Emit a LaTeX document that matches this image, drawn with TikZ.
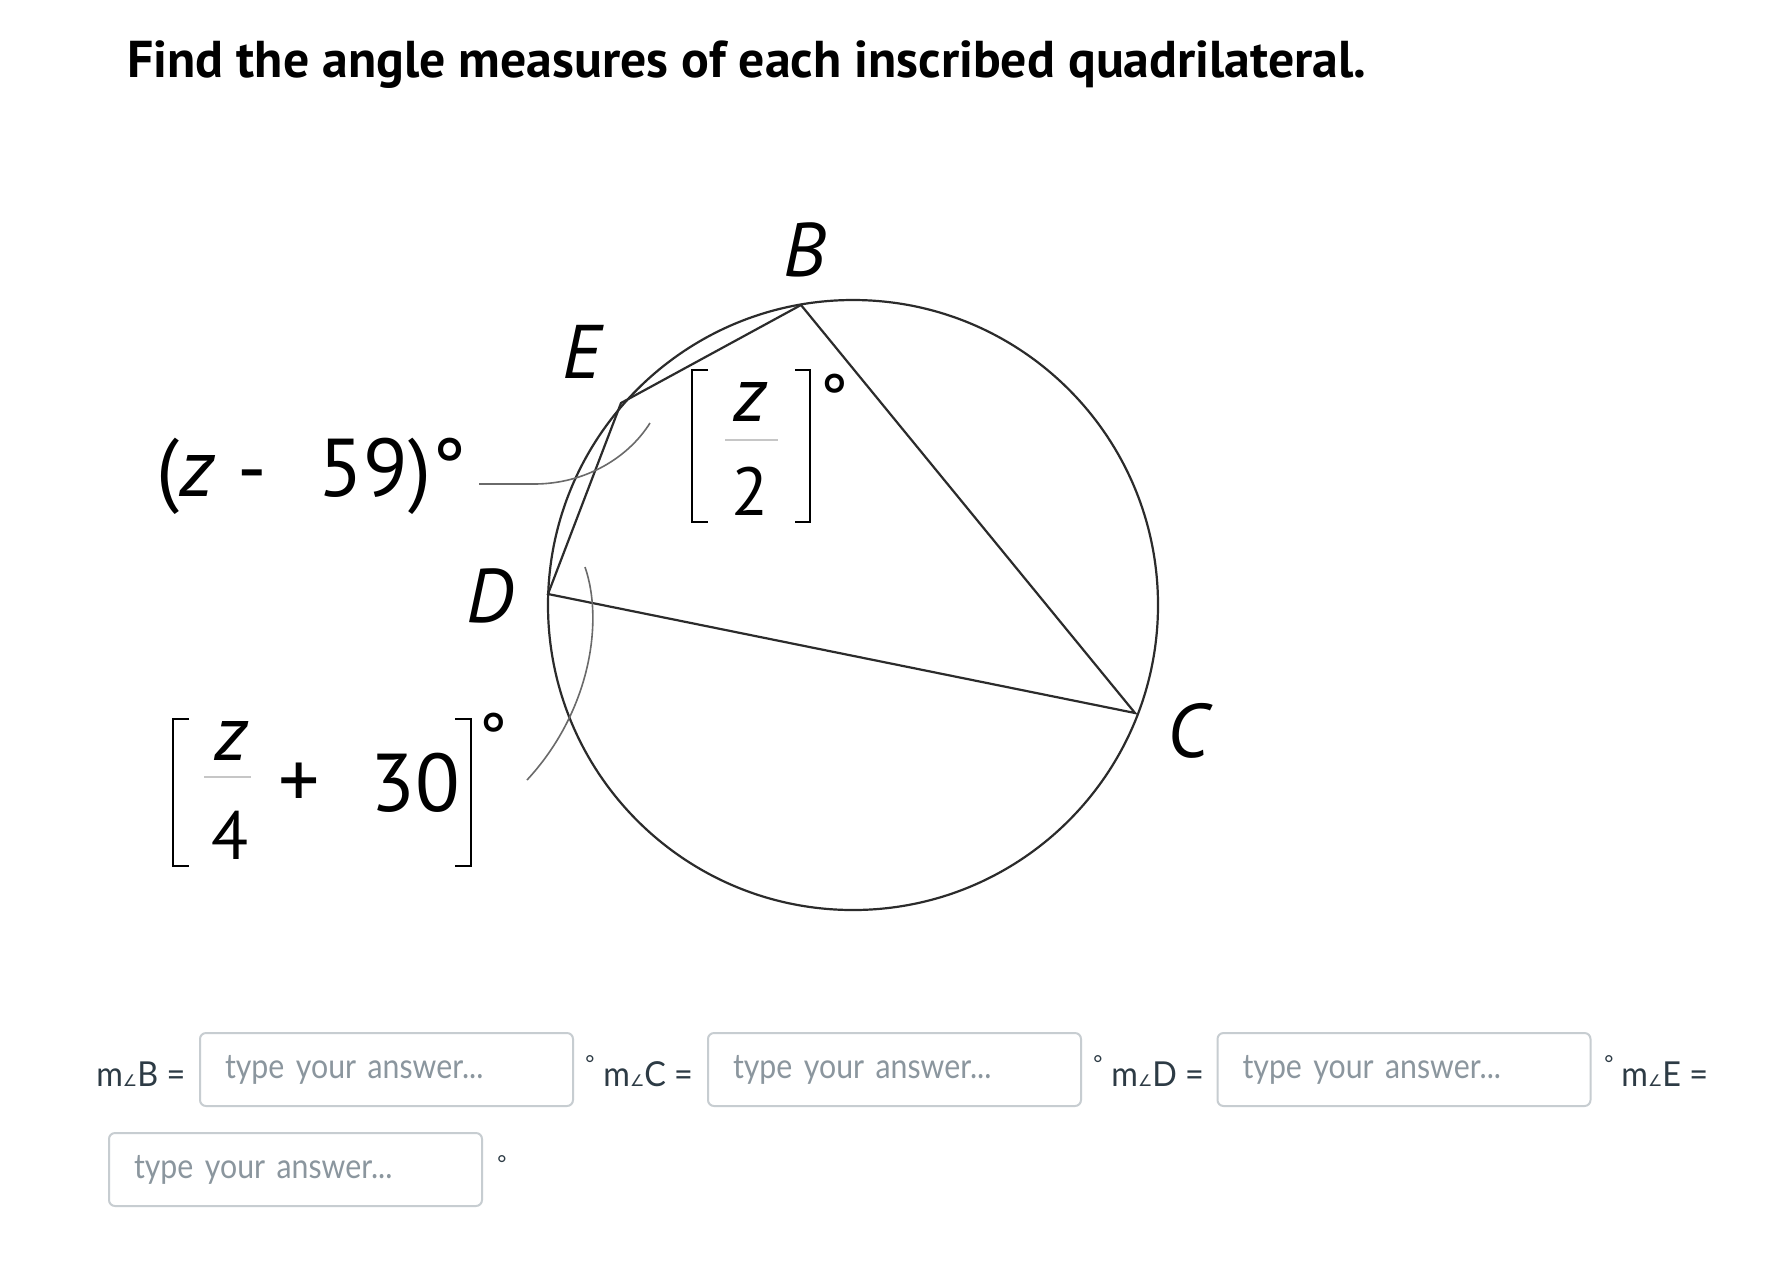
\documentclass[tikz,border=0pt]{standalone}
\usepackage{fontspec}
\setmainfont{Lato}
\newfontfamily\figfont{PT Sans}
\newfontfamily\symfont{DejaVu Sans}
\newfontfamily\hintfont[FakeStretch=0.88]{Lato}
\newfontfamily\formfont[FakeStretch=0.94]{Lato}
\usetikzlibrary{positioning}

\definecolor{formtext}{HTML}{2D3B45}
\definecolor{hinttext}{HTML}{8B969E}
\definecolor{boxline}{HTML}{C7CDD1}
\definecolor{figline}{HTML}{2B2B2B}
\definecolor{leadline}{HTML}{6A6A6A}

\newcommand{\mang}{m{\symfont\fontsize{8}{8}\selectfont ∠}}

\begin{document}
\begin{tikzpicture}[x=0.5pt,y=-0.5pt,
  every node/.style={inner sep=0pt},
  vlabel/.style={font={\figfont\itshape\fontsize{38}{38}\selectfont}},
  angtext/.style={font={\figfont\fontsize{41}{41}\selectfont}},
  fractext/.style={font={\figfont\fontsize{34}{34}\selectfont}},
  fracz/.style={font={\figfont\itshape\fontsize{39}{39}\selectfont}},
  chord/.style={figline,line width=1.1pt},
  bracket/.style={black,line width=1.3pt},
  fracbar/.style={gray!45,line width=1pt},
  leader/.style={leadline,line width=0.8pt},
  formlbl/.style={font={\formfont\fontsize{17.2}{17.2}\selectfont},text=formtext},
  ansbox/.style={draw=boxline,line width=1pt,rounded corners=3pt,
    minimum width=186.5pt,minimum height=36.5pt,text width=161.5pt,
    inner xsep=12.5pt,align=left,font={\hintfont\fontsize{17.2}{17.2}\selectfont},text=hinttext},
  degmark/.style={font={\fontsize{11}{11}\selectfont},text=formtext}]
\useasboundingbox[fill=white] (0,0) rectangle (1766,1266);

% title
\node[anchor=base west,font={\figfont\bfseries\fontsize{25.9}{25.9}\selectfont}] (title)
  at (127,77) {Find the angle measures of each inscribed quadrilateral.};

% circle and quadrilateral
\coordinate (O) at (853,605);
\coordinate (B) at (801,305);
\coordinate (E) at (621,403);
\coordinate (D) at (548,594);
\coordinate (C) at (1135,713);
\draw[chord] (O) circle (152.5pt);
\draw[chord] (B) -- (E) -- (D) -- (C) -- cycle;

\node[vlabel,anchor=base] (lB) at (805,276) {B};
\node[vlabel,anchor=base] (lE) at (582,378) {E};
\node[vlabel,anchor=base] (lD) at (490,622) {D};
\node[vlabel,anchor=base] (lC) at (1188,757) {C};

% angle at E
\node[angtext,anchor=base west] (angE) at (156,496) {(\textit{z} -\hspace{26pt}59)°};
\coordinate (fE) at (479,484);
\coordinate (tE) at (650,423);
\draw[leader] (fE) -- ++(55,0) .. controls (585,484) and (628,458) .. (tE);

% angle at B
\node[fracz,anchor=base] (zB) at (750,421) {z};
\node[fractext,anchor=base] (twoB) at (750,515) {2};
\draw[fracbar] (725,440) -- (778,440);
\draw[bracket] (708,370) -- (692,370) -- (692,522) -- (708,522);
\draw[bracket] (795,370) -- (810,370) -- (810,522) -- (795,522);
\node[fractext] (degB) at (834,398) {°};

% angle at D
\node[fracz,anchor=base] (zD) at (231,760) {z};
\node[fractext,anchor=base] (fourD) at (230,859) {4};
\draw[fracbar] (204,777) -- (251,777);
\node[angtext] (plusD) at (299,786) {+};
\node[angtext,anchor=base west] (thirtyD) at (370,811) {30};
\draw[bracket] (189,719) -- (173,719) -- (173,866) -- (189,866);
\draw[bracket] (455,719) -- (471,719) -- (471,866) -- (455,866);
\node[fractext] (degD) at (493,737) {°};
\coordinate (tD) at (585,567);
\coordinate (fD) at (527,780);
\draw[leader] (tD) .. controls (604,622) and (590,712) .. (fD);

% answer form
\node[formlbl,anchor=base west] (mB) at (96,1086) {\mang B =};
\node[ansbox] (boxB) at (386.5,1069.5) {type your answer...};
\node[degmark] (dB) at (590,1063) {°};
\node[formlbl,anchor=base west] (mC) at (603,1086) {\mang C =};
\node[ansbox] (boxC) at (894.5,1069.5) {type your answer...};
\node[degmark] (dC) at (1098,1063) {°};
\node[formlbl,anchor=base west] (mD) at (1111,1086) {\mang D =};
\node[ansbox] (boxD) at (1404,1069.5) {type your answer...};
\node[degmark] (dD) at (1609,1063) {°};
\node[formlbl,anchor=base west] (mE) at (1621,1086) {\mang E =};
\node[ansbox] (boxE) at (295.5,1169.5) {type your answer...};
\node[degmark] (dE) at (502,1163) {°};
\end{tikzpicture}
\end{document}
